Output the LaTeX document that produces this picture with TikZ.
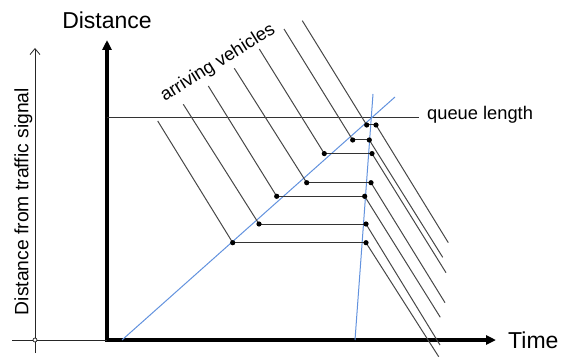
\documentclass[tikz,border=0pt]{standalone}
\usepackage{fontspec}
\setmainfont{Liberation Sans}
\usetikzlibrary{arrows.meta}
\definecolor{wavecol}{RGB}{98,146,222}

\begin{document}
\begin{tikzpicture}[x=1pt, y=-1pt,
  axis/.style={line width=3.5pt, line join=miter},
  traj/.style={black!72, line width=1pt},
  queue/.style={black!80, line width=1pt},
  wave/.style={wavecol, line width=1pt},
  stopdot/.style={fill=black}]
  \useasboundingbox (0,0) rectangle (572,358);

  % Main axes
  \coordinate (O) at (107,340);
  \coordinate (Ytip) at (107,40);
  \coordinate (Xtip) at (496,340);
  \draw[axis, {Triangle[length=10pt,width=9pt]}-{Triangle[length=10pt,width=9pt]}] (Ytip) -- (O) -- (Xtip);
  \node[anchor=base, font=\fontsize{23}{27}\selectfont] (ylab) at (107,28.3) {Distance};
  \node[anchor=base west, inner sep=0pt, font=\fontsize{23}{27}\selectfont] (xlab) at (508,348.3) {Time};

  % Reference axis (distance from signal)
  \coordinate (R) at (35,340);
  \coordinate (Rbot) at (35,353);
  \coordinate (Rtop) at (35,48);
  \coordinate (Rleft) at (12,340);
  \draw[black!85, line width=0.8pt, -{Straight Barb[length=6pt,width=10pt]}] (Rbot) -- (Rtop);
  \draw[black!85, line width=0.8pt] (Rleft) -- (O);
  \draw[line width=0.6pt, fill=white] (R) circle (2pt);
  \node[rotate=90, anchor=base, font=\fontsize{19.3}{23}\selectfont] (dlab) at (28.3,201.5) {Distance from traffic signal};

  % Queue length
  \coordinate (Q0) at (107,117.5);
  \coordinate (Q1) at (419,117.5);
  \draw[queue] (Q0) -- (Q1);
  \node[anchor=base west, inner sep=0pt, font=\fontsize{18.3}{22}\selectfont] (qlab) at (427,119.5) {queue length};

  % Shock waves
  \coordinate (W1a) at (122,340); % arrival wave
  \coordinate (W1b) at (395,97);
  \coordinate (W2a) at (355,340); % discharge wave
  \coordinate (W2b) at (373,94);
  \draw[wave] (W1a) -- (W1b);
  \draw[wave] (W2a) -- (W2b);

  % Vehicle trajectories: start, stop, go, end
  \coordinate (s1) at (157.7,121);   \coordinate (a1) at (232.7,242.7);
  \coordinate (d1) at (366,242.7);   \coordinate (e1) at (438.7,356.7);
  \coordinate (s2) at (183.3,104.3); \coordinate (a2) at (259,224);
  \coordinate (d2) at (366,224);     \coordinate (e2) at (440,345);
  \coordinate (s3) at (208.3,86);    \coordinate (a3) at (276.7,196.3);
  \coordinate (d3) at (364.7,196.3); \coordinate (e3) at (440.3,317.3);
  \coordinate (s4) at (234.3,68.3);  \coordinate (a4) at (306.7,182.7);
  \coordinate (d4) at (371,182.7);   \coordinate (e4) at (445,302.7);
  \coordinate (s5) at (259.3,49);    \coordinate (a5) at (324.3,153.6);
  \coordinate (d5) at (372,153.6);   \coordinate (e5) at (446,272.7);
  \coordinate (s6) at (284,29);      \coordinate (a6) at (352.7,140);
  \coordinate (d6) at (369.3,140);   \coordinate (e6) at (442.7,257.3);
  \coordinate (s7) at (302.3,20.7);  \coordinate (a7) at (366.7,125);
  \coordinate (d7) at (376,125);     \coordinate (e7) at (448.3,242.7);

  \draw[traj] (s1) -- (a1);  \draw[queue] (a1) -- (d1);  \draw[traj] (d1) -- (e1);
  \draw[traj] (s2) -- (a2);  \draw[queue] (a2) -- (d2);  \draw[traj] (d2) -- (e2);
  \draw[traj] (s3) -- (a3);  \draw[queue] (a3) -- (d3);  \draw[traj] (d3) -- (e3);
  \draw[traj] (s4) -- (a4);  \draw[queue] (a4) -- (d4);  \draw[traj] (d4) -- (e4);
  \draw[traj] (s5) -- (a5);  \draw[queue] (a5) -- (d5);  \draw[traj] (d5) -- (e5);
  \draw[traj] (s6) -- (a6);  \draw[queue] (a6) -- (d6);  \draw[traj] (d6) -- (e6);
  \draw[traj] (s7) -- (a7);  \draw[queue] (a7) -- (d7);  \draw[traj] (d7) -- (e7);

  % Stop and go points
  \fill[stopdot] (a1) circle (2.6pt) (d1) circle (2.6pt);
  \fill[stopdot] (a2) circle (2.6pt) (d2) circle (2.6pt);
  \fill[stopdot] (a3) circle (2.6pt) (d3) circle (2.6pt);
  \fill[stopdot] (a4) circle (2.6pt) (d4) circle (2.6pt);
  \fill[stopdot] (a5) circle (2.6pt) (d5) circle (2.6pt);
  \fill[stopdot] (a6) circle (2.6pt) (d6) circle (2.6pt);
  \fill[stopdot] (a7) circle (2.6pt) (d7) circle (2.6pt);

  % Label
  \node[rotate=32, font=\fontsize{18.3}{22}\selectfont] (arr) at (218,63) {arriving vehicles};
\end{tikzpicture}
\end{document}
